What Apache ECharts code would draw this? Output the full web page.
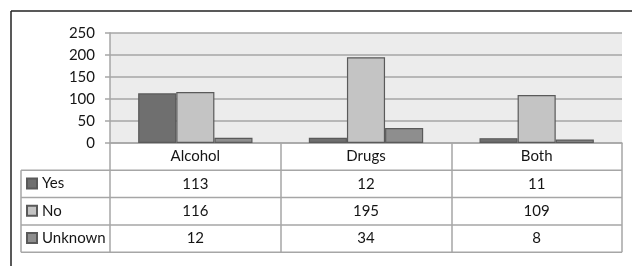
<!DOCTYPE html>
<html>
<head>
<meta charset="utf-8">
<script src="https://cdn.jsdelivr.net/npm/echarts@6/dist/echarts.min.js"></script>
<style>
  html, body { margin: 0; padding: 0; background: #fff; }
  #main { width: 632px; height: 266px; }
</style>
</head>
<body>
<div id="main"></div>
<script>
  // data
  var categories = ['Alcohol', 'Drugs', 'Both'];
  var seriesNames = ['Yes', 'No', 'Unknown'];
  var yesValues = [113, 12, 11];
  var noValues = [116, 195, 109];
  var unknownValues = [12, 34, 8];
  var yMin = 0, yMax = 250, yStep = 50;

  var allValues = [yesValues, noValues, unknownValues];
  var barColors = ['#6f6f6f', '#c4c4c4', '#8e8e8e'];
  var font = 'Lato';
  var textColor = '#151515';
  var lineColor = '#a6a6a6';

  // table layout
  var gridLeft = 110, gridRight = 622, gridTop = 33, gridBottom = 143;
  var rowH = 27.3;
  var tableLeft = 21;

  var myChart = echarts.init(document.getElementById('main'));

  var graphics = [
    // outer frame (left + top)
    { type: 'line', shape: { x1: 11, y1: 11, x2: 632, y2: 11 }, style: { stroke: '#222', lineWidth: 1.5 } },
    { type: 'line', shape: { x1: 11, y1: 11, x2: 11, y2: 266 }, style: { stroke: '#222', lineWidth: 1.5 } },
    // table left border
    { type: 'line', shape: { x1: tableLeft, y1: gridBottom + rowH, x2: tableLeft, y2: gridBottom + rowH * 4 }, style: { stroke: lineColor, lineWidth: 1.5 } }
  ];
  for (var r = 1; r <= 4; r++) {
    var y = gridBottom + rowH * r;
    graphics.push({ type: 'line', shape: { x1: tableLeft, y1: y, x2: gridRight, y2: y }, style: { stroke: lineColor, lineWidth: 1.5 } });
  }

  var legends = seriesNames.map(function (n, i) {
    return {
      data: [n],
      left: 26,
      top: gridBottom + rowH * (i + 1) + rowH / 2 - 8,
      itemWidth: 10,
      itemHeight: 10,
      itemGap: 0,
      padding: 0,
      selectedMode: false,
      icon: 'rect',
      textStyle: { fontFamily: font, fontSize: 15, color: textColor, padding: [0, 0, 0, 0] }
    };
  });

  var option = {
    animation: false,
    textStyle: { fontFamily: font },
    graphic: graphics,
    legend: legends,
    grid: {
      left: gridLeft, right: 632 - gridRight, top: gridTop, bottom: 266 - gridBottom,
      show: true, backgroundColor: '#ececec', borderWidth: 0
    },
    xAxis: {
      type: 'category',
      data: categories,
      axisLine: { show: true, lineStyle: { color: lineColor, width: 1.5 } },
      axisTick: { show: true, length: rowH * 4, lineStyle: { color: lineColor, width: 1.5 } },
      axisLabel: {
        margin: 0,
        verticalAlign: 'top',
        fontFamily: font,
        fontSize: 15,
        color: textColor,
        lineHeight: rowH,
        formatter: function (v, i) {
          return [v].concat(allValues.map(function (arr) { return arr[i]; })).join('\n');
        }
      }
    },
    yAxis: {
      type: 'value',
      min: yMin, max: yMax, interval: yStep,
      axisLine: { show: true, lineStyle: { color: lineColor, width: 1.5 } },
      axisTick: { show: true, length: 5, lineStyle: { color: lineColor, width: 1.5 } },
      axisLabel: { fontFamily: font, fontSize: 15, color: textColor, margin: 15 },
      splitLine: { lineStyle: { color: lineColor, width: 1.5 } }
    },
    series: seriesNames.map(function (n, i) {
      return {
        name: n,
        type: 'bar',
        data: allValues[i],
        barGap: 0,
        barCategoryGap: '33%',
        itemStyle: { color: barColors[i], borderColor: '#5a5a5a', borderWidth: 1.2 }
      };
    })
  };
  myChart.setOption(option);
</script>
</body>
</html>
